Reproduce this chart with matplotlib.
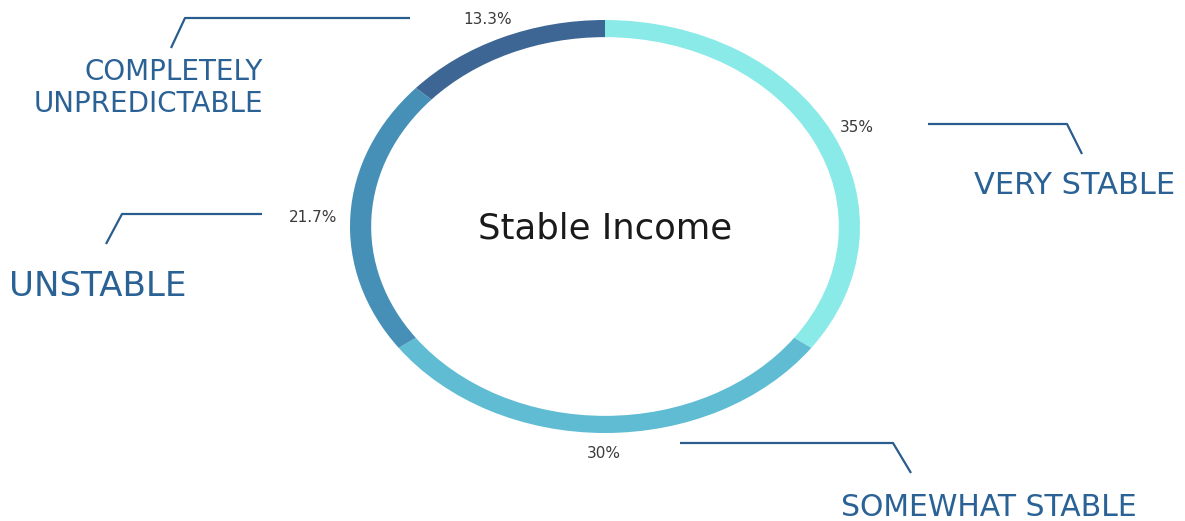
import matplotlib
matplotlib.use("Agg")
import matplotlib.pyplot as plt

categories = ["VERY STABLE", "SOMEWHAT STABLE", "UNSTABLE", "COMPLETELY\nUNPREDICTABLE"]
values = [35, 30, 21.7, 13.3]
colors = ["#8AEAE8", "#5FBCD3", "#4690B8", "#3D6694"]
center_title = "Stable Income"

W, H = 1185, 521
fig = plt.figure(figsize=(W / 100, H / 100), dpi=100)
fig.patch.set_facecolor("white")

# donut axes (elliptical ring as in reference)
cx0, cy0, cx1, cy1 = 350, 20, 860, 433
pax = fig.add_axes([cx0 / W, 1 - cy1 / H, (cx1 - cx0) / W, (cy1 - cy0) / H])
pax.pie(values, colors=colors, startangle=90, counterclock=False,
        radius=1.0, wedgeprops=dict(width=0.083, linewidth=0))
pax.set_aspect("auto")
pax.set_xlim(-1, 1)
pax.set_ylim(-1, 1)
pax.axis("off")
pax.text(0, -0.01, center_title, ha="center", va="center", fontsize=25.5,
         color="#1a1a1a", family="DejaVu Sans")

# overlay in pixel coordinates
ax = fig.add_axes([0, 0, 1, 1], zorder=3)
ax.set_xlim(0, W)
ax.set_ylim(H, 0)
ax.axis("off")
ax.patch.set_alpha(0)

line_col = "#2A5C8D"
label_col = "#2B6296"
pct_col = "#3a3a3a"

layout = {
    "VERY STABLE": dict(pct=(857, 127, "center"),
                        line=[(928, 124), (1067, 124), (1082, 154)],
                        lab=(1175, 186, "right"), fs=22),
    "SOMEWHAT STABLE": dict(pct=(604, 454, "center"),
                            line=[(680, 443), (893, 443), (911, 473)],
                            lab=(1137, 507, "right"), fs=21.5),
    "UNSTABLE": dict(pct=(313, 218, "center"),
                     line=[(262, 214), (122, 214), (106, 244)],
                     lab=(9, 286, "left"), fs=24.5),
    "COMPLETELY\nUNPREDICTABLE": dict(pct=(488, 19, "center"),
                                      line=[(410, 18), (185, 18), (171, 48)],
                                      lab=(263, 88, "right"), fs=20),
}

for cat, val in zip(categories, values):
    L = layout[cat]
    px, py, pha = L["pct"]
    ax.text(px, py, f"{val:g}%", ha=pha, va="center", fontsize=11,
            color=pct_col, family="DejaVu Sans")
    xs = [p[0] for p in L["line"]]
    ys = [p[1] for p in L["line"]]
    ax.plot(xs, ys, color=line_col, lw=1.6, solid_capstyle="butt")
    lx, ly, lha = L["lab"]
    ax.text(lx, ly, cat, ha=lha, va="center", fontsize=L["fs"],
            color=label_col, family="DejaVu Sans", linespacing=1.15,
            multialignment="right" if lha == "right" else "left")

fig.savefig("out.png", dpi=100, facecolor="white")
